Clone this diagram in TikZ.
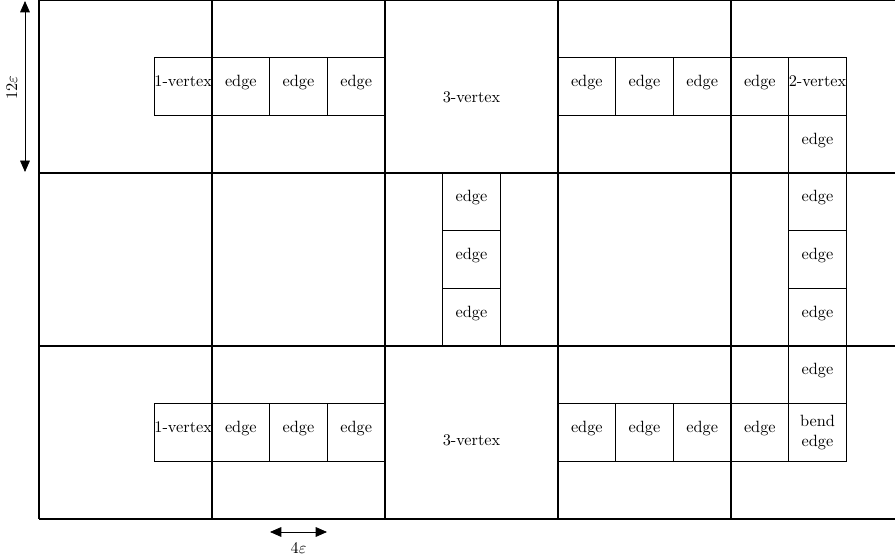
\documentclass[tikz,border=0pt]{standalone}
\usetikzlibrary{arrows.meta}
\begin{document}
\begin{tikzpicture}[x=0.614pt,y=-0.614pt,
  gridline/.style={line width=1.2pt},
  cellbox/.style={draw,line width=0.5pt,minimum width=35.41pt,minimum height=35.41pt,inner sep=0pt,align=center,font=\normalsize,text height=3pt,text depth=3pt},
  twoline/.style={text height=,text depth=},
  dimarrow/.style={line width=0.5pt,{Triangle[length=7pt,width=6pt]}-{Triangle[length=7pt,width=6pt]}}]
\useasboundingbox (0,0) rectangle (895,560);
\begin{scope}
\clip (0,-2) rectangle (895,560);
% small boxes, top row
\node[cellbox] (tv1) at (183.17,86.5) {1-vertex};
\node[cellbox] (te1) at (240.83,86.5) {edge};
\node[cellbox] (te2) at (298.5,86.5) {edge};
\node[cellbox] (te3) at (356.17,86.5) {edge};
\node (t3v) at (471.5,97) {3-vertex};
\node[cellbox] (te4) at (586.83,86.5) {edge};
\node[cellbox] (te5) at (644.5,86.5) {edge};
\node[cellbox] (te6) at (702.17,86.5) {edge};
\node[cellbox] (te7) at (759.83,86.5) {edge};
\node[cellbox] (t2v) at (817.5,86.5) {2-vertex};
% right column
\node[cellbox] (re1) at (817.5,144.17) {edge};
\node[cellbox] (re2) at (817.5,201.83) {edge};
\node[cellbox] (re3) at (817.5,259.5) {edge};
\node[cellbox] (re4) at (817.5,317.17) {edge};
\node[cellbox] (re5) at (817.5,374.83) {edge};
% middle column
\node[cellbox] (me1) at (471.5,201.83) {edge};
\node[cellbox] (me2) at (471.5,259.5) {edge};
\node[cellbox] (me3) at (471.5,317.17) {edge};
% bottom row
\node[cellbox] (bv1) at (183.17,432.5) {1-vertex};
\node[cellbox] (be1) at (240.83,432.5) {edge};
\node[cellbox] (be2) at (298.5,432.5) {edge};
\node[cellbox] (be3) at (356.17,432.5) {edge};
\node (b3v) at (471.5,440) {3-vertex};
\node[cellbox] (be4) at (586.83,432.5) {edge};
\node[cellbox] (be5) at (644.5,432.5) {edge};
\node[cellbox] (be6) at (702.17,432.5) {edge};
\node[cellbox] (be7) at (759.83,432.5) {edge};
\node[cellbox,twoline] (bbe) at (817.5,432.5) {bend\\edge};
% grid
\foreach \x in {39,212,385,558,731}
  \draw[gridline] (\x,0) -- (\x,519);
\foreach \y in {0,173,346,519}
  \draw[gridline] (39,\y) -- (904,\y);
\end{scope}
% dimension arrows
\coordinate (va) at (25,1);
\coordinate (vb) at (25,172);
\draw[dimarrow] (va) -- (vb);
\node[rotate=90] (vl) at (12,88) {$12\varepsilon$};
\coordinate (ha) at (270,532);
\coordinate (hb) at (327,532);
\draw[dimarrow] (ha) -- (hb);
\node (hl) at (298.5,548) {$4\varepsilon$};
\end{tikzpicture}
\end{document}
